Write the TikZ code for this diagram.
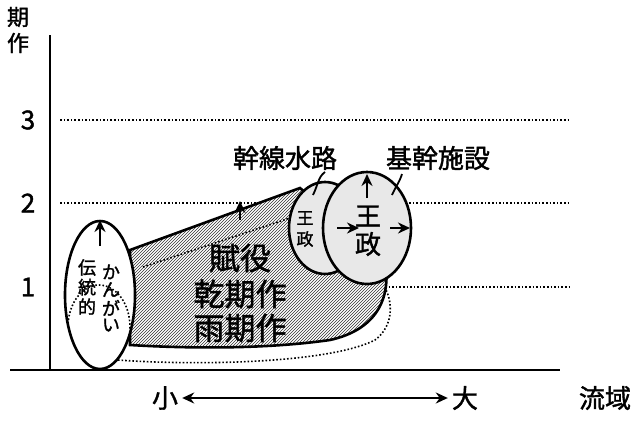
\documentclass[tikz,border=0pt]{standalone}
\usepackage{fontspec}
\setmainfont{Noto Sans CJK JP}[FakeBold=1.5]
\usetikzlibrary{patterns,arrows.meta}
\begin{document}
\begin{tikzpicture}[x=1pt,y=-1pt,
 ln/.style={line width=2.6pt},
 dl/.style={dotted,line width=1.6pt},
 arr/.style={-{Stealth[length=12pt,width=11pt]},line width=2.6pt},
 lab/.style={font=\fontsize{26}{28}\selectfont,inner sep=0},
 big/.style={font=\fontsize{31}{34}\selectfont,inner sep=0}]
\useasboundingbox (0,0) rectangle (640,426);
% axes
\draw[line width=2.8pt] (50,35) -- (50,370);
\draw[line width=2.8pt] (10,370) -- (560,370);
\node[font=\fontsize{22}{22}\selectfont,inner sep=0] (yl1) at (18,17) {期};
\node[font=\fontsize{22}{22}\selectfont,inner sep=0] (yl2) at (18,43) {作};
\node[lab] (t3) at (28,120) {3};
\node[lab] (t2) at (28,203) {2};
\node[lab] (t1) at (28,287) {1};
\draw[dl] (60,120) -- (570,120);
\draw[dl] (60,203) -- (570,203);
\draw[dl] (385,287) -- (570,287);
% lower dotted outline
\draw[dl] (118,360) .. controls (200,366) and (330,363) .. (375,340) .. controls (395,325) and (392,300) .. (385,288);
% hatched region
\draw[ln,pattern=north east lines,pattern color=black!80,preaction={fill=white}] (130,250) -- (300,188) -- (385,260) .. controls (392,300) and (375,330) .. (330,340) .. controls (260,350) and (180,348) .. (130,345) -- cycle;
\draw[dl] (143,267) -- (293,217);
\draw[ln,fill=white] (100,295) ellipse [x radius=35,y radius=74];
\begin{scope}
\clip (100,295) ellipse [x radius=34,y radius=73];
\draw[dl] (99,327) ellipse [x radius=31,y radius=42];
\end{scope}
% circles
\draw[ln,fill=gray!18] (325,228) ellipse [x radius=36,y radius=46];
\draw[ln,fill=gray!18] (367,228) ellipse [x radius=44,y radius=56];
% labels
\node[lab] (kansen) at (285,158) {幹線水路};
\node[lab] (kikan) at (438,158) {基幹施設};
\draw[line width=1.8pt] (325,172) .. controls (318,177) and (318,185) .. (313,195);
\draw[line width=1.8pt] (402,174) .. controls (400,181) and (395,188) .. (392,195);
% arrows
\draw[arr] (100,246) -- (100,220);
\draw[arr] (240,220) -- (240,201);
\draw[arr] (367,198) -- (367,174);
\draw[arr] (337,228) -- (359,228);
\draw[arr] (390,228) -- (410,228);
% texts
\node[big] (fueki) at (240,258) {賦役};
\node[big] (kanki) at (240,294) {乾期作};
\node[big] (uki) at (240,328) {雨期作};
\node[lab] (o1) at (368,216) {王};
\node[lab] (o2) at (368,244) {政};
\node[font=\fontsize{17}{18}\selectfont,inner sep=0] (s1) at (305,218) {王};
\node[font=\fontsize{17}{18}\selectfont,inner sep=0] (s2) at (305,239) {政};
\node[font=\fontsize{18}{20}\selectfont,inner sep=0] (den) at (87,287) {\shortstack{伝\\統\\的}};
\node[font=\fontsize{18}{20}\selectfont,inner sep=0] (kg) at (111,298) {\shortstack{か\\ん\\が\\い}};
% bottom
\node[lab] (sho) at (165,398) {小};
\node[lab] (dai) at (465,398) {大};
\node[lab] (ryu) at (605,398) {流域};
\draw[{Stealth[length=12pt,width=11pt]}-{Stealth[length=12pt,width=11pt]},line width=2.4pt] (sho.east)++(4,0) -- ([xshift=-4pt]dai.west);
\end{tikzpicture}
\end{document}
